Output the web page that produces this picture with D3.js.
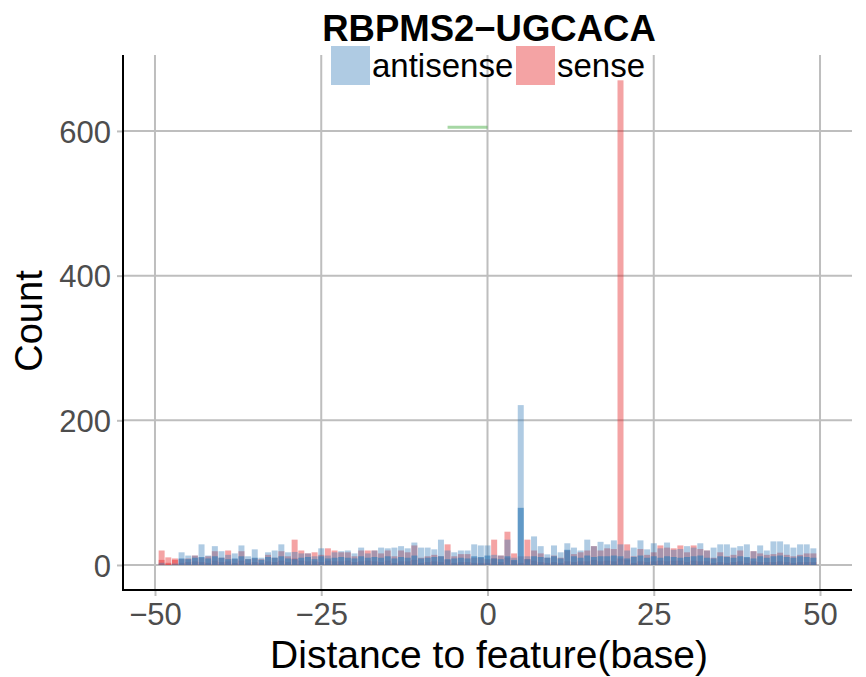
<!DOCTYPE html>
<html><head><meta charset="utf-8">
<script src="https://cdn.jsdelivr.net/npm/d3@7"></script>
<style>body{margin:0;background:#fff;}svg{display:block;font-family:"Liberation Sans",Arial,sans-serif;}</style>
</head><body>
<script>
const positions = [-49,-48,-47,-46,-45,-44,-43,-42,-41,-40,-39,-38,-37,-36,-35,-34,-33,-32,-31,-30,-29,-28,-27,-26,-25,-24,-23,-22,-21,-20,-19,-18,-17,-16,-15,-14,-13,-12,-11,-10,-9,-8,-7,-6,-5,-4,-3,-2,-1,0,1,2,3,4,5,6,7,8,9,10,11,12,13,14,15,16,17,18,19,20,21,22,23,24,25,26,27,28,29,30,31,32,33,34,35,36,37,38,39,40,41,42,43,44,45,46,47,48,49];
const antisense = [3,0,2,17.5,13,13,28.5,13,26,19,14,16,27,12,21.6,10,17.5,20,28.5,17.5,18,16,16,12,23,13,17.5,19,20,16,24,16,20,24,23,24,26,23,31,24,24,21.6,35,20,17.5,20,20,28.5,27,27,14,13,35,10,221,12,39.5,26,14.7,27,17.5,30,24,20,35,26,32,28.5,34,28.5,20,24,34,21.6,30,23,31,21,22,26,24,30,20,24,28.5,28.5,24,26,28.5,19,27,20,32.6,32.6,28.5,24,28.5,28.5,23];
const antisenseBase = [0,0,0,9,8,10,11,9,12,10,8,9,12,8,10,7,11,10,12,9,8,10,11,8,12,9,10,11,10,9,12,10,11,10,12,9,11,10,13,9,10,11,12,8,9,10,9,12,11,13,9,8,12,7,79,8,12,11,10,12,9,21,12,10,13,11,12,12,13,12,9,11,13,10,12,10,12,11,10,11,12,13,10,9,12,11,10,12,11,9,12,10,12,13,11,10,12,11,10];
const sense = [20,10.5,9,8,9,13,10,12,19,10,20,8,19,8,9,8,14,10,19,12,35,20,16,17.5,14,23,20,17.5,17.5,12,20,20,20,16,20,12,20,17.5,27,10,12,14,12,28.5,12,15,15,10,10,8,35,13,46,16,12,35,20,16,10,13,10,20,15,17.5,20,26,20,23,22,670,28.5,12,22,14,17.5,27,24,23,27,17.5,27,22,20,10,17.5,12,14,20,10,19,16,14,15,17,14,12,14,16,16];
const senseBase = [7,3,7,3,4,5,4,3,6,4,5,3,6,3,4,3,5,4,6,4,9,6,5,5,4,6,5,5,6,4,5,6,5,4,6,3,5,5,7,3,4,5,4,7,3,4,4,3,3,3,9,4,10,6,3,8,6,4,3,4,3,5,4,5,5,7,5,6,5,9,7,3,5,4,5,6,5,6,6,4,6,5,5,3,4,3,4,5,3,5,4,4,4,5,4,3,4,4,4];
const legendLabels = ["antisense","sense"];
const xTicks = [-50,-25,0,25,50];
const yTicks = [0,200,400,600];
const segment = {x0:-6, x1:0, y:605};
const colors = {antisense:"#377EB8", sense:"#E41A1C", seg:"#4DAF4A"};

const W=866,H=677;
const svg=d3.select("body").append("svg").attr("width",W).attr("height",H);
const L=123,R=852,T=55,B=590;
const x=d3.scaleLinear().domain([-54.81,54.81]).range([L,R]);
const y=d3.scaleLinear().domain([-34.6,705]).range([B,T]);
const bw=x(0.45)-x(-0.45);
const grid="#bebebe";

svg.append("g").selectAll("line").data(xTicks).join("line")
  .attr("x1",d=>x(d)).attr("x2",d=>x(d)).attr("y1",T).attr("y2",B)
  .attr("stroke",grid).attr("stroke-width",2);
svg.append("g").selectAll("line").data(yTicks).join("line")
  .attr("x1",L).attr("x2",R).attr("y1",d=>y(d)).attr("y2",d=>y(d))
  .attr("stroke",grid).attr("stroke-width",2);

function layer(vals,color,op){
  svg.append("g").selectAll("rect").data(positions.map((p,i)=>({p,v:vals[i]}))).join("rect")
    .attr("x",d=>x(d.p)-bw/2).attr("width",bw)
    .attr("y",d=>y(Math.max(d.v,0))).attr("height",d=>y(0)-y(Math.max(d.v,0)))
    .attr("fill",color).attr("fill-opacity",op);
}
layer(senseBase,colors.sense,0.4);
layer(sense,colors.sense,0.4);
layer(antisense,colors.antisense,0.4);
layer(antisenseBase,colors.antisense,0.65);

svg.append("line").attr("x1",x(segment.x0)).attr("x2",x(segment.x1))
  .attr("y1",y(segment.y)).attr("y2",y(segment.y))
  .attr("stroke",colors.seg).attr("stroke-opacity",0.5).attr("stroke-width",3);

const xa=svg.append("g").attr("transform",`translate(0,${B})`)
  .call(d3.axisBottom(x).tickValues(xTicks).tickSize(6).tickPadding(4).tickFormat(d=>d<0?"\u2212"+Math.abs(d):d));
const ya=svg.append("g").attr("transform",`translate(${L},0)`)
  .call(d3.axisLeft(y).tickValues(yTicks).tickSize(6).tickPadding(6));
[xa,ya].forEach(a=>{
  a.select(".domain").remove();
  a.selectAll(".tick line").attr("stroke",grid).attr("stroke-width",2);
  a.selectAll(".tick text").attr("fill","#4d4d4d").attr("font-size",31).attr("font-family","Liberation Sans, Arial, sans-serif");
});
xa.selectAll(".tick text").attr("dy","0.8em");
ya.selectAll(".tick text").attr("dy","0.36em");
svg.append("line").attr("x1",L).attr("x2",L).attr("y1",T).attr("y2",B+1).attr("stroke","#000").attr("stroke-width",2);
svg.append("line").attr("x1",L-1).attr("x2",R).attr("y1",B).attr("y2",B).attr("stroke","#000").attr("stroke-width",2);

svg.append("text").attr("x",489).attr("y",668).attr("text-anchor","middle")
  .attr("font-size",39).attr("fill","#000").text("Distance to feature(base)");
svg.append("text").attr("transform","translate(42,321) rotate(-90)").attr("text-anchor","middle")
  .attr("font-size",38).attr("fill","#000").text("Count");
svg.append("text").attr("x",489).attr("y",41).attr("text-anchor","middle")
  .attr("font-size",36.5).attr("font-weight","bold").attr("fill","#000").text("RBPMS2\u2212UGCACA");

const lg=[{label:legendLabels[0],c:colors.antisense,kx:331,tx:372},{label:legendLabels[1],c:colors.sense,kx:516,tx:557}];
lg.forEach(d=>{
  svg.append("rect").attr("x",d.kx).attr("y",46).attr("width",39).attr("height",39).attr("fill",d.c).attr("fill-opacity",0.4);
  svg.append("text").attr("x",d.tx).attr("y",77).attr("font-size",33).attr("fill","#000").text(d.label);
});
</script>
</body></html>
